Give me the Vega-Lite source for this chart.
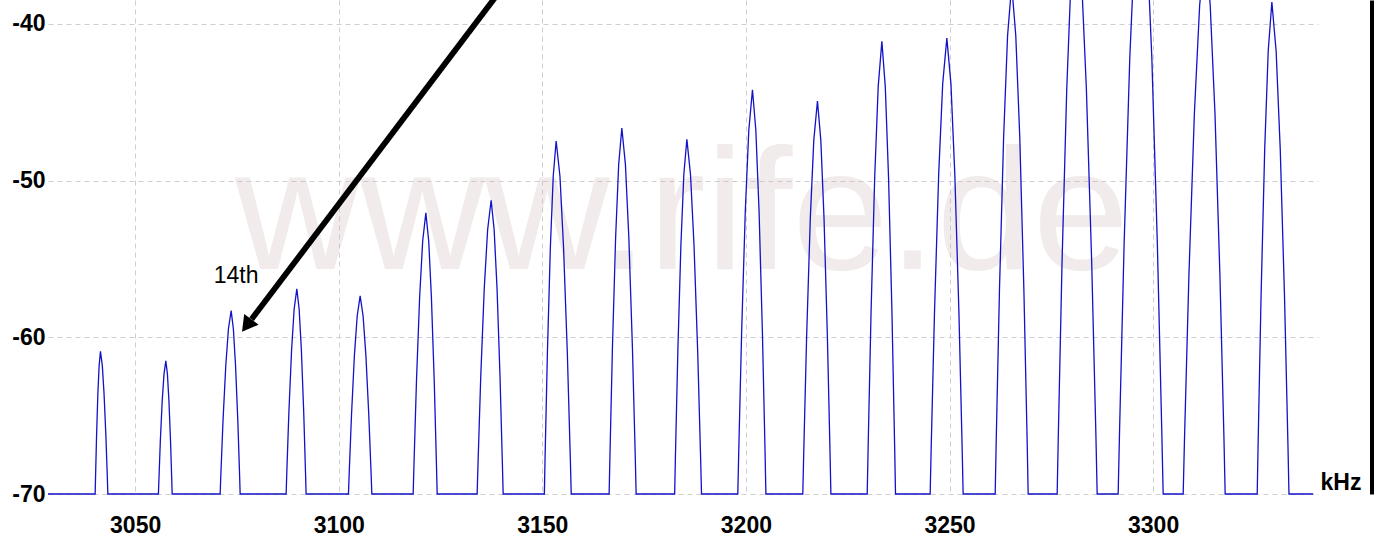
{
  "$schema": "https://vega.github.io/schema/vega-lite/v6.json",
  "width": 1270,
  "height": 494,
  "autosize": "none",
  "padding": {"left": 48, "top": 0, "right": 61, "bottom": 44},
  "background": "white",
  "config": {
    "view": {"stroke": null},
    "font": "Liberation Sans",
    "axisX": {"domain": false, "ticks": false, "labelFont": "Liberation Sans", "labelFontWeight": "bold", "labelFontSize": 23, "labelColor": "black", "labelBaseline": "middle", "labelPadding": 31, "grid": true, "gridColor": "#cfcfcf", "gridDash": [5, 4], "gridWidth": 1,
      "titleFont": "Liberation Sans", "titleFontWeight": "bold", "titleFontSize": 23, "titleColor": "black", "titleX": 1272, "titleY": -12, "titleAlign": "left", "titleBaseline": "middle", "titleAnchor": "start"}
  },
  "datasets": {
    "spectrum": [
      {"f": 3028.6, "db": -70},
      {"f": 3040.18, "db": -70}, {"f": 3040.26, "db": -69.09}, {"f": 3040.52, "db": -66.36}, {"f": 3040.84, "db": -63.63}, {"f": 3041.16, "db": -61.81}, {"f": 3041.48, "db": -60.9}, {"f": 3041.94, "db": -61.81}, {"f": 3042.37, "db": -63.63}, {"f": 3042.83, "db": -66.36}, {"f": 3043.19, "db": -69.09}, {"f": 3043.3, "db": -70},
      {"f": 3055.72, "db": -70}, {"f": 3055.83, "db": -69.15}, {"f": 3056.19, "db": -66.6}, {"f": 3056.65, "db": -64.05}, {"f": 3057.09, "db": -62.35}, {"f": 3057.54, "db": -61.5}, {"f": 3057.93, "db": -62.35}, {"f": 3058.3, "db": -64.05}, {"f": 3058.69, "db": -66.6}, {"f": 3059.0, "db": -69.15}, {"f": 3059.09, "db": -70},
      {"f": 3070.88, "db": -70}, {"f": 3071.04, "db": -68.83}, {"f": 3071.58, "db": -65.32}, {"f": 3072.26, "db": -61.81}, {"f": 3072.91, "db": -59.47}, {"f": 3073.58, "db": -58.3}, {"f": 3074.13, "db": -59.47}, {"f": 3074.66, "db": -61.81}, {"f": 3075.22, "db": -65.32}, {"f": 3075.66, "db": -68.83}, {"f": 3075.79, "db": -70},
      {"f": 3087.08, "db": -70}, {"f": 3087.24, "db": -68.69}, {"f": 3087.76, "db": -64.76}, {"f": 3088.42, "db": -60.83}, {"f": 3089.05, "db": -58.21}, {"f": 3089.71, "db": -56.9}, {"f": 3090.28, "db": -58.21}, {"f": 3090.83, "db": -60.83}, {"f": 3091.4, "db": -64.76}, {"f": 3091.85, "db": -68.69}, {"f": 3091.99, "db": -70},
      {"f": 3102.39, "db": -70}, {"f": 3102.56, "db": -68.74}, {"f": 3103.14, "db": -64.94}, {"f": 3103.85, "db": -61.15}, {"f": 3104.54, "db": -58.62}, {"f": 3105.26, "db": -57.35}, {"f": 3105.98, "db": -58.62}, {"f": 3106.67, "db": -61.15}, {"f": 3107.38, "db": -64.94}, {"f": 3107.96, "db": -68.74}, {"f": 3108.13, "db": -70},
      {"f": 3118.28, "db": -70}, {"f": 3118.47, "db": -68.21}, {"f": 3119.09, "db": -62.82}, {"f": 3119.87, "db": -57.44}, {"f": 3120.62, "db": -53.85}, {"f": 3121.4, "db": -52.06}, {"f": 3122.1, "db": -53.85}, {"f": 3122.76, "db": -57.44}, {"f": 3123.46, "db": -62.82}, {"f": 3124.01, "db": -68.21}, {"f": 3124.18, "db": -70},
      {"f": 3133.99, "db": -70}, {"f": 3134.2, "db": -68.13}, {"f": 3134.88, "db": -62.5}, {"f": 3135.74, "db": -56.88}, {"f": 3136.57, "db": -53.13}, {"f": 3137.43, "db": -51.25}, {"f": 3138.17, "db": -53.13}, {"f": 3138.88, "db": -56.88}, {"f": 3139.61, "db": -62.5}, {"f": 3140.2, "db": -68.13}, {"f": 3140.38, "db": -70},
      {"f": 3150.5, "db": -70}, {"f": 3150.67, "db": -67.75}, {"f": 3151.25, "db": -60.99}, {"f": 3151.98, "db": -54.23}, {"f": 3152.68, "db": -49.72}, {"f": 3153.4, "db": -47.47}, {"f": 3154.33, "db": -49.72}, {"f": 3155.21, "db": -54.23}, {"f": 3156.14, "db": -60.99}, {"f": 3156.88, "db": -67.75}, {"f": 3157.1, "db": -70},
      {"f": 3166.41, "db": -70}, {"f": 3166.6, "db": -67.66}, {"f": 3167.22, "db": -60.66}, {"f": 3168.0, "db": -53.65}, {"f": 3168.75, "db": -48.98}, {"f": 3169.53, "db": -46.64}, {"f": 3170.41, "db": -48.98}, {"f": 3171.25, "db": -53.65}, {"f": 3172.13, "db": -60.66}, {"f": 3172.83, "db": -67.66}, {"f": 3173.04, "db": -70},
      {"f": 3182.5, "db": -70}, {"f": 3182.68, "db": -67.74}, {"f": 3183.28, "db": -60.94}, {"f": 3184.03, "db": -54.15}, {"f": 3184.75, "db": -49.62}, {"f": 3185.5, "db": -47.36}, {"f": 3186.4, "db": -49.62}, {"f": 3187.26, "db": -54.15}, {"f": 3188.16, "db": -60.94}, {"f": 3188.88, "db": -67.74}, {"f": 3189.1, "db": -70},
      {"f": 3198.01, "db": -70}, {"f": 3198.23, "db": -67.42}, {"f": 3198.95, "db": -59.68}, {"f": 3199.85, "db": -51.94}, {"f": 3200.71, "db": -46.78}, {"f": 3201.61, "db": -44.2}, {"f": 3202.44, "db": -46.78}, {"f": 3203.23, "db": -51.94}, {"f": 3204.05, "db": -59.68}, {"f": 3204.71, "db": -67.42}, {"f": 3204.91, "db": -70},
      {"f": 3213.97, "db": -70}, {"f": 3214.19, "db": -67.49}, {"f": 3214.91, "db": -59.97}, {"f": 3215.81, "db": -52.44}, {"f": 3216.67, "db": -47.43}, {"f": 3217.57, "db": -44.92}, {"f": 3218.4, "db": -47.43}, {"f": 3219.19, "db": -52.44}, {"f": 3220.01, "db": -59.97}, {"f": 3220.67, "db": -67.49}, {"f": 3220.87, "db": -70},
      {"f": 3229.79, "db": -70}, {"f": 3230.01, "db": -67.11}, {"f": 3230.73, "db": -58.44}, {"f": 3231.63, "db": -49.78}, {"f": 3232.49, "db": -44.0}, {"f": 3233.39, "db": -41.11}, {"f": 3234.23, "db": -44.0}, {"f": 3235.03, "db": -49.78}, {"f": 3235.87, "db": -58.44}, {"f": 3236.54, "db": -67.11}, {"f": 3236.74, "db": -70},
      {"f": 3245.25, "db": -70}, {"f": 3245.5, "db": -67.09}, {"f": 3246.32, "db": -58.36}, {"f": 3247.34, "db": -49.63}, {"f": 3248.33, "db": -43.81}, {"f": 3249.35, "db": -40.9}, {"f": 3250.35, "db": -43.81}, {"f": 3251.31, "db": -49.63}, {"f": 3252.31, "db": -58.36}, {"f": 3253.11, "db": -67.09}, {"f": 3253.35, "db": -70},
      {"f": 3261.22, "db": -70}, {"f": 3261.46, "db": -66.75}, {"f": 3262.27, "db": -57.0}, {"f": 3263.29, "db": -47.25}, {"f": 3264.26, "db": -40.75}, {"f": 3265.27, "db": -37.5}, {"f": 3266.28, "db": -40.75}, {"f": 3267.26, "db": -47.25}, {"f": 3268.27, "db": -57.0}, {"f": 3269.08, "db": -66.75}, {"f": 3269.32, "db": -70},
      {"f": 3276.44, "db": -70}, {"f": 3276.72, "db": -66.3}, {"f": 3277.64, "db": -55.2}, {"f": 3278.8, "db": -44.1}, {"f": 3279.91, "db": -36.7}, {"f": 3281.06, "db": -33.0}, {"f": 3282.36, "db": -36.7}, {"f": 3283.61, "db": -44.1}, {"f": 3284.92, "db": -55.2}, {"f": 3285.96, "db": -66.3}, {"f": 3286.27, "db": -70},
      {"f": 3291.42, "db": -70}, {"f": 3291.76, "db": -66.02}, {"f": 3292.88, "db": -54.08}, {"f": 3294.28, "db": -42.14}, {"f": 3295.62, "db": -34.18}, {"f": 3297.02, "db": -30.2}, {"f": 3298.38, "db": -34.18}, {"f": 3299.69, "db": -42.14}, {"f": 3301.05, "db": -54.08}, {"f": 3302.14, "db": -66.02}, {"f": 3302.47, "db": -70},
      {"f": 3307.39, "db": -70}, {"f": 3307.71, "db": -66.53}, {"f": 3308.79, "db": -56.12}, {"f": 3310.14, "db": -45.71}, {"f": 3311.44, "db": -38.77}, {"f": 3312.79, "db": -35.3}, {"f": 3314.02, "db": -38.77}, {"f": 3315.2, "db": -45.71}, {"f": 3316.42, "db": -56.12}, {"f": 3317.41, "db": -66.53}, {"f": 3317.7, "db": -70},
      {"f": 3325.57, "db": -70}, {"f": 3325.79, "db": -66.86}, {"f": 3326.51, "db": -57.44}, {"f": 3327.41, "db": -48.02}, {"f": 3328.27, "db": -41.74}, {"f": 3329.17, "db": -38.6}, {"f": 3330.22, "db": -41.74}, {"f": 3331.23, "db": -48.02}, {"f": 3332.28, "db": -57.44}, {"f": 3333.12, "db": -66.86}, {"f": 3333.37, "db": -70},
      {"f": 3339.32, "db": -70}
    ]
  },
  "layer": [
    {
      "data": {"values": [{"f": 3184.3, "db": -55.63, "t": "www.rife.de"}]},
      "mark": {"type": "text", "font": "Liberation Sans", "fontSize": 173, "align": "center", "baseline": "alphabetic", "color": "#d0b8b8", "opacity": 0.28},
      "encoding": {
        "x": {"field": "f", "type": "quantitative", "scale": {"domain": [3028.6, 3340.5], "nice": false, "zero": false}, "title": "kHz",
          "axis": {"values": [3050, 3100, 3150, 3200, 3250, 3300], "labelExpr": "'' + datum.value"}},
        "y": {"field": "db", "type": "quantitative", "scale": {"domain": [-70, -38.47], "nice": false, "zero": false}, "axis": null},
        "text": {"field": "t"}
      }
    },
    {
      "data": {"name": "spectrum"},
      "mark": {"type": "line", "color": "#1212c8", "strokeWidth": 1.3, "interpolate": "linear"},
      "encoding": {
        "x": {"field": "f", "type": "quantitative", "scale": {"domain": [3028.6, 3340.5], "nice": false, "zero": false}, "title": "kHz",
          "axis": {"values": [3050, 3100, 3150, 3200, 3250, 3300], "labelExpr": "'' + datum.value"}},
        "y": {"field": "db", "type": "quantitative", "scale": {"domain": [-70, -38.47], "nice": false, "zero": false},
          "axis": {"orient": "left", "values": [-70, -60, -50, -40], "labelExpr": "'' + datum.value", "domain": false, "ticks": false, "labelFont": "Liberation Sans", "labelFontWeight": "bold", "labelFontSize": 23, "labelColor": "black", "labelPadding": 3, "grid": true, "gridColor": "#cfcfcf", "gridDash": [5, 4], "gridWidth": 1, "title": null}}
      }
    },
    {
      "data": {"values": [{"f": 3139.8, "db": -37.83, "f2": 3078.59, "db2": -58.85}]},
      "mark": {"type": "rule", "color": "black", "strokeWidth": 5.8},
      "encoding": {
        "x": {"field": "f", "type": "quantitative", "title": "kHz",
          "axis": {"values": [3050, 3100, 3150, 3200, 3250, 3300], "labelExpr": "'' + datum.value"}},
        "y": {"field": "db", "type": "quantitative", "axis": null},
        "x2": {"field": "f2"},
        "y2": {"field": "db2"}
      }
    },
    {
      "data": {"values": [{"f": 3077.4, "db": -59.25}]},
      "mark": {"type": "point", "shape": "triangle-up", "filled": true, "color": "black", "opacity": 1, "size": 324, "angle": 217},
      "encoding": {
        "x": {"field": "f", "type": "quantitative", "title": "kHz",
          "axis": {"values": [3050, 3100, 3150, 3200, 3250, 3300], "labelExpr": "'' + datum.value"}},
        "y": {"field": "db", "type": "quantitative", "axis": null}
      }
    },
    {
      "data": {"values": [{"f": 3074.8, "db": -56.07, "t": "14th"}]},
      "mark": {"type": "text", "font": "Liberation Sans", "fontSize": 23, "align": "center", "baseline": "middle", "color": "black"},
      "encoding": {
        "x": {"field": "f", "type": "quantitative", "title": "kHz",
          "axis": {"values": [3050, 3100, 3150, 3200, 3250, 3300], "labelExpr": "'' + datum.value"}},
        "y": {"field": "db", "type": "quantitative", "axis": null},
        "text": {"field": "t"}
      }
    },
    {
      "data": {"values": [{"db": -70}]},
      "mark": {"type": "text", "text": ""},
      "encoding": {
        "y": {"field": "db", "type": "quantitative",
          "axis": {"orient": "right", "offset": 53.5, "domain": true, "domainColor": "black", "domainWidth": 4, "ticks": false, "labels": false, "grid": false, "title": null}}
      }
    }
  ],
  "resolve": {"axis": {"y": "independent"}}
}
